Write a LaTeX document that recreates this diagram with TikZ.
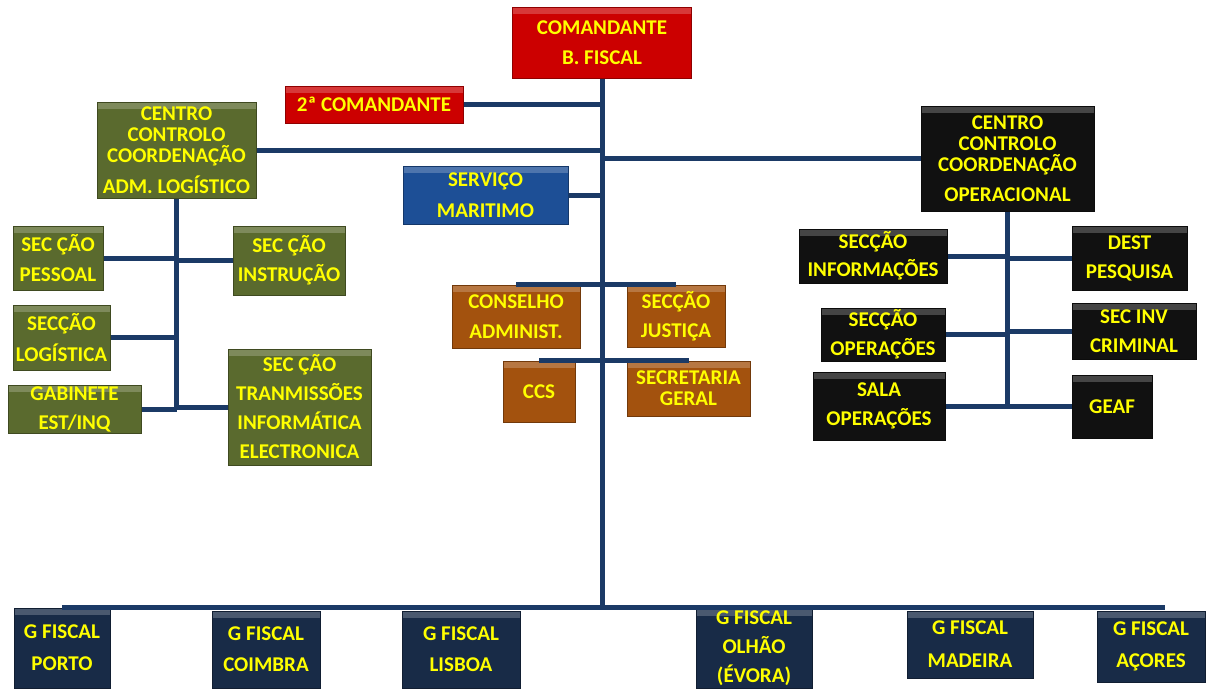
\documentclass[tikz,border=0pt]{standalone}
\usepackage{fontspec}
\setmainfont{Carlito}
\definecolor{linkblue}{HTML}{1B3A66}
\definecolor{boxred}{HTML}{CC0000}
\definecolor{boxolive}{HTML}{5A6A2E}
\definecolor{boxblue}{HTML}{1D4F96}
\definecolor{boxorange}{HTML}{A3520E}
\definecolor{boxblack}{HTML}{111111}
\definecolor{boxnavy}{HTML}{182B47}
\definecolor{txtyellow}{HTML}{FFFF00}
\tikzset{
  unit/.style={draw=#1!70!black, fill=#1, line width=1pt, text=txtyellow,
    font=\fontsize{21}{21}\selectfont\bfseries, align=center, inner sep=1pt,
    path picture={\fill[white,opacity=0.22]
      (path picture bounding box.north west) rectangle
      ([yshift=-7pt]path picture bounding box.north east);}},
  link/.style={draw=linkblue, line width=5pt}
}
\begin{document}
\begin{tikzpicture}[x=1pt,y=-1pt]
  \useasboundingbox (0,0) rectangle (1206,688);
  % command
  \node[unit=boxred, minimum width=179, minimum height=71] (cmd) at (602,42.5) {COMANDANTE\\[9pt]B. FISCAL};
  \node[unit=boxred, minimum width=178, minimum height=37] (cmd2) at (374,104.5) {2ª COMANDANTE};
  \node[unit=boxolive, minimum width=159, minimum height=96] (ccca) at (176.5,150) {CENTRO\\CONTROLO\\COORDENAÇÃO\\[9pt]ADM. LOGÍSTICO};
  \node[unit=boxblue, minimum width=165, minimum height=58] (smar) at (485.5,195) {SERVIÇO\\[10pt]MARITIMO};
  \node[unit=boxblack, minimum width=173, minimum height=105] (ccco) at (1007.5,158.5) {CENTRO\\CONTROLO\\COORDENAÇÃO\\[9pt]OPERACIONAL};
  % left branch
  \node[unit=boxolive, minimum width=90, minimum height=64] (spes) at (58,258) {SEC ÇÃO\\[9pt]PESSOAL};
  \node[unit=boxolive, minimum width=112, minimum height=69] (sins) at (289,260.5) {SEC ÇÃO\\[8pt]INSTRUÇÃO};
  \node[unit=boxolive, minimum width=97, minimum height=65] (slog) at (61.5,337.5) {SECÇÃO\\[8pt]LOGÍSTICA};
  \node[unit=boxolive, minimum width=133, minimum height=48] (gab) at (74.5,409) {GABINETE\\[8pt]EST/INQ};
  \node[unit=boxolive, minimum width=143, minimum height=116] (stra) at (299.5,407) {SEC ÇÃO\\[8pt]TRANMISSÕES\\[8pt]INFORMÁTICA\\[8pt]ELECTRONICA};
  % centre branch
  \node[unit=boxorange, minimum width=128, minimum height=63] (cons) at (516,316.5) {CONSELHO\\[9pt]ADMINIST.};
  \node[unit=boxorange, minimum width=98, minimum height=62] (just) at (676,316) {SECÇÃO\\[8pt]JUSTIÇA};
  \node[unit=boxorange, minimum width=72, minimum height=61] (ccs) at (539,391.5) {CCS};
  \node[unit=boxorange, minimum width=123, minimum height=55] (sger) at (688.5,388.5) {SECRETARIA\\GERAL};
  % right branch
  \node[unit=boxblack, minimum width=148, minimum height=54] (sinf) at (873,256) {SECÇÃO\\[7pt]INFORMAÇÕES};
  \node[unit=boxblack, minimum width=115, minimum height=64] (dest) at (1129.5,258) {DEST\\[8pt]PESQUISA};
  \node[unit=boxblack, minimum width=124, minimum height=53] (sope) at (883,334.5) {SECÇÃO\\[8pt]OPERAÇÕES};
  \node[unit=boxblack, minimum width=124, minimum height=56] (sinv) at (1134,331) {SEC INV\\[8pt]CRIMINAL};
  \node[unit=boxblack, minimum width=132, minimum height=68] (sala) at (879,406) {SALA\\[8pt]OPERAÇÕES};
  \node[unit=boxblack, minimum width=80, minimum height=63] (geaf) at (1112,406.5) {GEAF};
  % fiscal groups
  \node[unit=boxnavy, minimum width=96, minimum height=80] (porto) at (62,648) {G FISCAL\\[11pt]PORTO};
  \node[unit=boxnavy, minimum width=108, minimum height=77] (coimbra) at (266,649.5) {G FISCAL\\[10pt]COIMBRA};
  \node[unit=boxnavy, minimum width=118, minimum height=77] (lisboa) at (461,649.5) {G FISCAL\\[10pt]LISBOA};
  \node[unit=boxnavy, minimum width=116, minimum height=79] (olhao) at (754,648.5) {G FISCAL\\[8pt]OLHÃO\\[8pt](ÉVORA)};
  \node[unit=boxnavy, minimum width=126, minimum height=67] (madeira) at (970,644.5) {G FISCAL\\[12pt]MADEIRA};
  \node[unit=boxnavy, minimum width=108, minimum height=71] (acores) at (1151,646.5) {G FISCAL\\[11pt]AÇORES};
  \coordinate (trunk) at (602,607);
  \draw[link] (cmd.south) -- (trunk);
  \draw[link] (porto.north |- trunk) -- ([xshift=14pt]acores.north |- trunk);
  \draw[link] (cmd2.east) -- (cmd2.east -| trunk);
  \draw[link] (ccca.east) -- (ccca.east -| trunk);
  \draw[link] (smar.east) -- (smar.east -| trunk);
  \draw[link] (ccco.west -| trunk) -- (ccco.west);
  % left branch
  \draw[link] (ccca.south) -- (ccca.south |- gab.east);
  \draw[link] (spes.east) -- (spes.east -| ccca.south);
  \draw[link] (sins.west) -- (sins.west -| ccca.south);
  \draw[link] (slog.east) -- (slog.east -| ccca.south);
  \draw[link] (gab.east) -- (gab.east -| ccca.south);
  \draw[link] (stra.west) -- (stra.west -| ccca.south);
  % centre branch
  \draw[link] (cons.north) -- (just.north);
  \draw[link] (ccs.north) -- (sger.north);
  % right branch
  \draw[link] (ccco.south) -- (ccco.south |- sala.east);
  \draw[link] (sinf.east) -- (sinf.east -| ccco.south);
  \draw[link] (dest.west) -- (dest.west -| ccco.south);
  \draw[link] (sope.east) -- (sope.east -| ccco.south);
  \draw[link] (sinv.west) -- (sinv.west -| ccco.south);
  \draw[link] (sala.east) -- (sala.east -| ccco.south);
  \draw[link] (geaf.west) -- (geaf.west -| ccco.south);
\end{tikzpicture}
\end{document}
